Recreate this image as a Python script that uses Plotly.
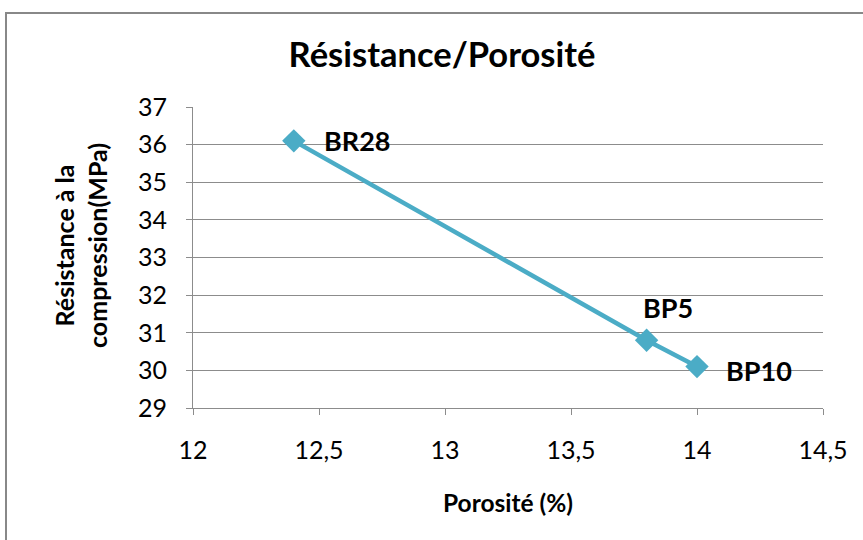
import plotly.graph_objects as go

# Porosity (%) vs compressive strength (MPa) for each concrete mix
mixes = ["BR28", "BP5", "BP10"]
porosity = [12.4, 13.8, 14.0]
strength = [36.1, 30.8, 30.1]

x_ticks = [12, 12.5, 13, 13.5, 14, 14.5]
y_ticks = [29, 30, 31, 32, 33, 34, 35, 36, 37]

# label offsets in pixels (style only)
label_shift = {"BR28": (28, 0), "BP5": (-6, 33), "BP10": (27, -4)}

line_color = "#4BACC6"
grid_color = "#8C8C8C"
font_family = "Lato, 'Open Sans', sans-serif"

fig = go.Figure()
fig.add_trace(go.Scatter(
    x=porosity, y=strength, mode="lines+markers",
    line=dict(color=line_color, width=4.5),
    marker=dict(symbol="diamond", size=18, color=line_color),
    showlegend=False, hoverinfo="x+y",
))

for name, px, py in zip(mixes, porosity, strength):
    dx, dy = label_shift[name]
    fig.add_annotation(
        x=px, y=py, text=f"<b>{name}</b>", showarrow=False,
        xanchor="left", yanchor="middle", xshift=dx, yshift=dy,
        font=dict(family=font_family, size=27, color="black"),
    )

W, H = 863, 540
L, R, T, B = 193, 40, 107, 132
pw, ph = W - L - R, H - T - B

# outer chart frame
fig.add_shape(
    type="rect", xref="paper", yref="paper",
    x0=(6 - L) / pw, x1=1.3, y0=-0.6, y1=(H - B - 13) / ph,
    line=dict(color="#888888", width=2), fillcolor="rgba(0,0,0,0)", layer="below",
)

# y-axis title (two lines)
fig.add_annotation(
    xref="paper", yref="paper", x=(80 - L) / pw, y=(H - B - 246) / ph,
    text="<b>Résistance à la<br>compression(MPa)</b>", textangle=-90,
    showarrow=False, xanchor="center", yanchor="middle",
    font=dict(family=font_family, size=25, color="black"),
)
# x-axis title
fig.add_annotation(
    xref="paper", yref="paper", x=0.5, y=(H - B - 502) / ph,
    text="<b>Porosité (%)</b>", showarrow=False,
    xanchor="center", yanchor="middle",
    font=dict(family=font_family, size=24.5, color="black"),
)

fig.update_layout(
    width=W, height=H,
    margin=dict(l=L, r=R, t=T, b=B),
    paper_bgcolor="white", plot_bgcolor="white",
    separators=", ",
    title=dict(
        text="<b>Résistance/Porosité</b>", x=442 / W, y=1 - 55 / H,
        xanchor="center", yanchor="middle",
        font=dict(family=font_family, size=34.5, color="black"),
    ),
    font=dict(family=font_family, size=25, color="black"),
)

fig.update_xaxes(
    range=[12, 14.5], tickvals=x_ticks, ticks="outside", ticklen=6,
    tickcolor=grid_color, showline=True, linecolor=grid_color, linewidth=1,
    showgrid=False, zeroline=False, ticklabelstandoff=14,
    tickfont=dict(family=font_family, size=25),
)
fig.update_yaxes(
    range=[29, 37], tickvals=y_ticks, ticks="outside", ticklen=6,
    tickcolor=grid_color, showline=True, linecolor=grid_color, linewidth=1,
    showgrid=True, gridcolor=grid_color, gridwidth=1, zeroline=False,
    ticklabelstandoff=14, tickfont=dict(family=font_family, size=25),
)

fig.write_html("out.html")
